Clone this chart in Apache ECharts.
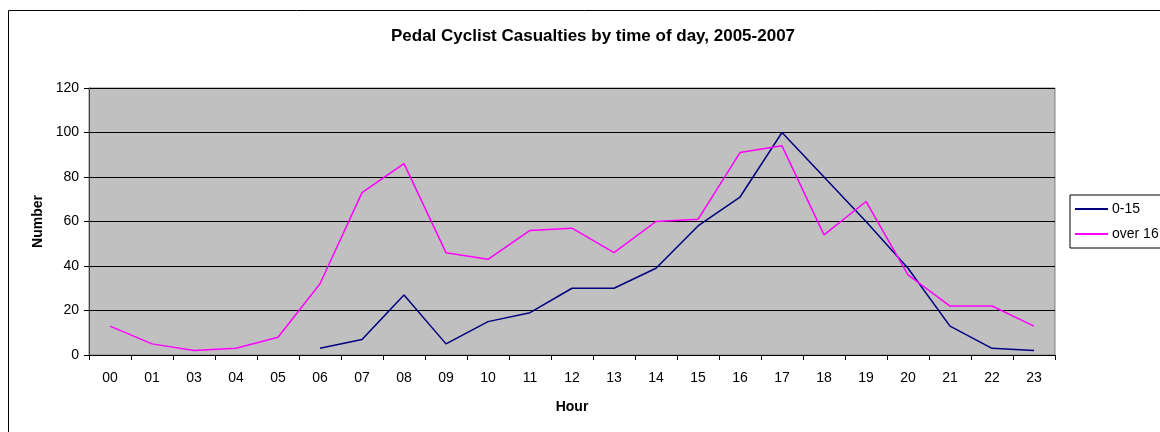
<!DOCTYPE html>
<html>
<head>
<meta charset="utf-8">
<script src="https://cdn.jsdelivr.net/npm/echarts@6/dist/echarts.min.js"></script>
<style>
  html, body { margin: 0; padding: 0; background: #fff; }
  #chart { width: 1160px; height: 432px; }
</style>
</head>
<body>
<div id="chart"></div>
<script>
// hours (note: 02 is absent in the source)
var hours = ['00','01','03','04','05','06','07','08','09','10','11','12','13','14','15','16','17','18','19','20','21','22','23'];
var age0to15 = [null,null,null,null,null,3,7,27,5,15,19,30,30,39,58,71,100,80,60,39,13,3,2];
var over16 = [13,5,2,3,8,32,73,86,46,43,56,57,46,60,61,91,94,54,69,36,22,22,13];
var yTicks = { min: 0, max: 120, step: 20 };

var chart = echarts.init(document.getElementById('chart'));
var font = 'Liberation Sans, Arial, sans-serif';

chart.setOption({
  animation: false,
  backgroundColor: '#fff',
  textStyle: { fontFamily: font },
  title: {
    text: 'Pedal Cyclist Casualties by time of day, 2005-2007',
    left: 588, top: 23, textAlign: 'center',
    textStyle: { fontSize: 17, fontWeight: 'bold', color: '#000', fontFamily: font }
  },
  graphic: [{
    type: 'rect', silent: true, z: -1,
    shape: { x: 8.5, y: 10.5, width: 1300, height: 500 },
    style: { fill: 'none', stroke: '#000', lineWidth: 1 }
  }],
  legend: {
    orient: 'vertical',
    left: 1070, top: 195,
    itemWidth: 33, itemHeight: 2, itemGap: 11,
    icon: 'rect',
    padding: [7, 30, 7, 5],
    borderColor: '#000', borderWidth: 1, backgroundColor: '#fff',
    textStyle: { fontSize: 14, color: '#000', fontFamily: font, padding: [0, 0, 0, -1] },
    data: ['0-15', 'over 16']
  },
  grid: {
    left: 89, right: 105, top: 88, bottom: 77,
    show: true, backgroundColor: '#c0c0c0', borderColor: '#808080', borderWidth: 1
  },
  xAxis: {
    type: 'category',
    data: hours,
    boundaryGap: true,
    name: 'Hour', nameLocation: 'middle', nameGap: 45,
    nameTextStyle: { fontSize: 14, fontWeight: 'bold', color: '#000' },
    axisLine: { lineStyle: { color: '#000', width: 1 } },
    axisTick: { show: true, length: 5, lineStyle: { color: '#000' } },
    axisLabel: { fontSize: 14, color: '#000', margin: 16, interval: 0 }
  },
  yAxis: {
    type: 'value',
    min: yTicks.min, max: yTicks.max, interval: yTicks.step,
    name: 'Number', nameLocation: 'middle', nameGap: 44, nameRotate: 90,
    nameTextStyle: { fontSize: 14, fontWeight: 'bold', color: '#000' },
    axisLine: { show: true, lineStyle: { color: '#404040', width: 1 } },
    axisTick: { show: true, length: 5, lineStyle: { color: '#000' } },
    axisLabel: { fontSize: 14, color: '#000', margin: 10 },
    splitLine: { show: true, lineStyle: { color: '#000', width: 1 } }
  },
  series: [
    {
      name: '0-15', type: 'line', data: age0to15,
      symbol: 'none', connectNulls: false,
      lineStyle: { color: '#000080', width: 1.5 },
      itemStyle: { color: '#000080' }
    },
    {
      name: 'over 16', type: 'line', data: over16,
      symbol: 'none',
      lineStyle: { color: '#ff00ff', width: 1.5 },
      itemStyle: { color: '#ff00ff' }
    }
  ]
});
</script>
</body>
</html>
